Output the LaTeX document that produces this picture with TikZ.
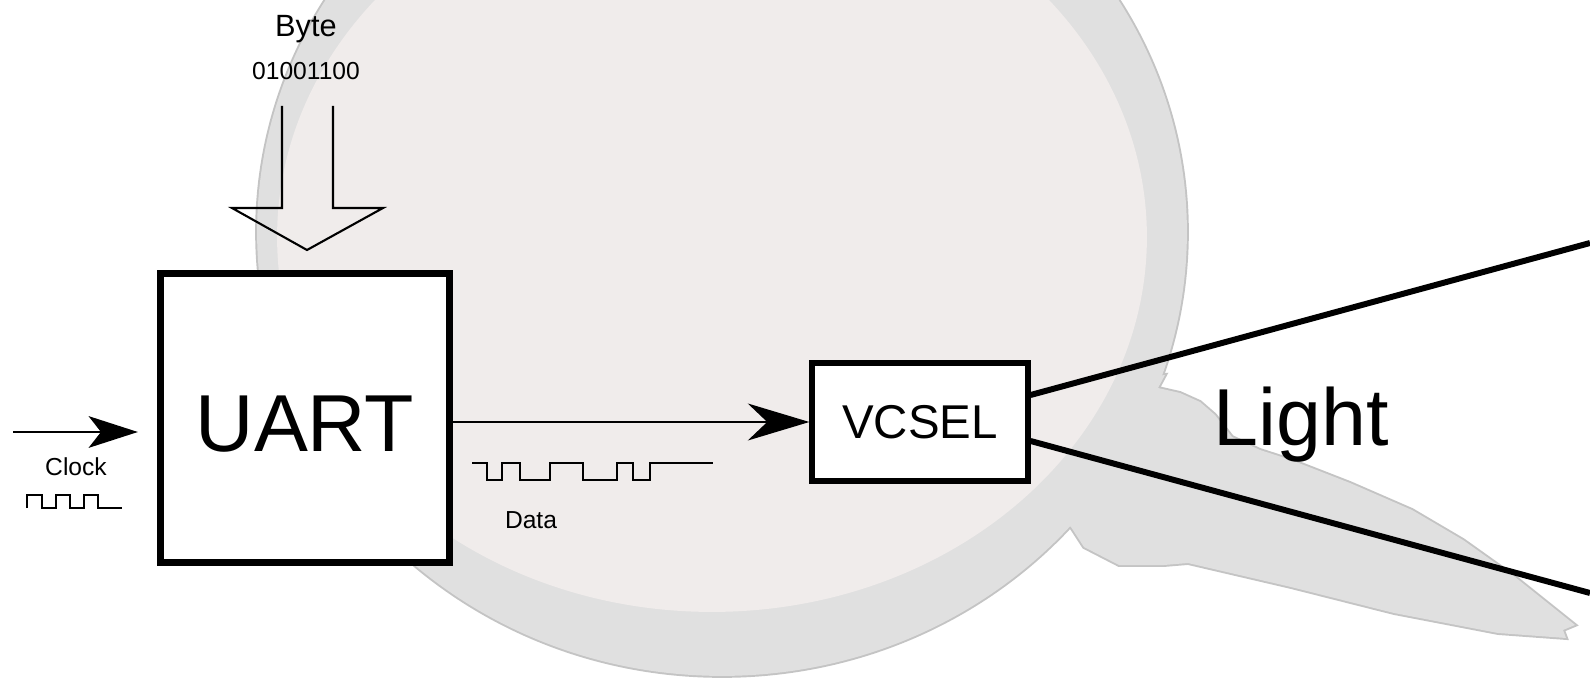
\documentclass[tikz,border=0pt]{standalone}
\usepackage{fontspec}
\setmainfont{Liberation Sans}
\usepackage{tikz}
\usetikzlibrary{%
	arrows.meta,%
	calc%
}

\definecolor{lensrim}{RGB}{224,224,224}
\definecolor{lensedge}{RGB}{196,196,196}
\definecolor{lensglass}{RGB}{240,236,235}

\begin{document}
\begin{tikzpicture}[x=0.02cm,y=-0.02cm,
	block/.style={draw,fill=white,inner sep=0pt},
	sig/.style={line width=1.7pt,-{Stealth[length=35pt,width=21pt,inset=11pt]}},
	wave/.style={line width=1.1pt,line join=miter},
	beam/.style={line width=3.4pt},
	small/.style={font=\fontsize{14}{16}\selectfont},
	big/.style={font=\fontsize{46}{50}\selectfont}]
\clip (0,0) rectangle (1590,679);

% Lens
\path [save path=\lenstail] (1120,380) -- (1165,375) -- (1158,388) -- (1180,393) -- (1200,402) -- (1215,415) -- (1232,437) -- (1260,450) -- (1291,460) -- (1350,483) -- (1412,510) -- (1463,540) -- (1515,577) -- (1560,613) -- (1575,625) -- (1563,630) -- (1566,638) -- (1498,633) -- (1394,613) -- (1291,587) -- (1188,563) -- (1164,565) -- (1119,565) -- (1084,547) -- (1071,527) -- (1040,500) -- cycle;
\draw [lensedge,line width=2.2pt,use path=\lenstail];
\draw [lensedge,line width=2.2pt] (722,232) ellipse [x radius=9.3cm,y radius=8.88cm];
\fill [lensrim,use path=\lenstail];
\fill [lensrim] (722,232) ellipse [x radius=9.3cm,y radius=8.88cm];
\fill [lensglass] (712,237) ellipse [x radius=8.7cm,y radius=7.5cm];

% Blocks
\node [block,big,line width=3.8pt,minimum width=5.78cm,minimum height=5.77cm,text height=38pt,text depth=0pt] (uart) at (305,418) {UART};
\node [block,line width=3pt,minimum width=4.32cm,minimum height=2.36cm,font=\fontsize{27}{30}\selectfont] (vcsel) at (920,422) {VCSEL};

% Byte in
\node [anchor=base,font=\fontsize{17.5}{20}\selectfont] (byte) at (306,37) {Byte};
\node [anchor=base,small] (bits) at (306,80) {01001100};
\draw [line width=1.2pt,line join=miter] (282,106) -- (282,208) -- (232,208) -- (307,250) -- (383,208) -- (333,208) -- (333,106);

% Clock
\coordinate (clkin) at (13,432);
\draw [line width=1.5pt,-{Stealth[length=28pt,width=18pt,inset=7pt]},shorten >=11pt] (clkin) -- (uart.west |- clkin);
\node [anchor=base,small] (clock) at (76,475) {Clock};
\draw [wave] (27,508) |- (42,495) |- (56,508) |- (70,495) |- (84,508) |- (98,495) |- (122,508);

% Data
\draw [sig] (uart.east |- vcsel) -- (vcsel);
\draw [wave] (472,463) -- (487,463) |- (502,480) |- (520,463) |- (550,480) |- (583,463) |- (617,480) |- (633,463) |- (650,480) |- (713,463);
\node [anchor=base,small] (data) at (531,528) {Data};

% Light
\coordinate (beamup) at (1590,243);
\coordinate (beamdown) at (1590,593);
\draw [beam] ($(vcsel.east)+(0,-27)$) -- (beamup);
\draw [beam] ($(vcsel.east)+(0,19)$) -- (beamdown);
\node [anchor=base,big] (light) at (1301,445) {Light};
\end{tikzpicture}
\end{document}
